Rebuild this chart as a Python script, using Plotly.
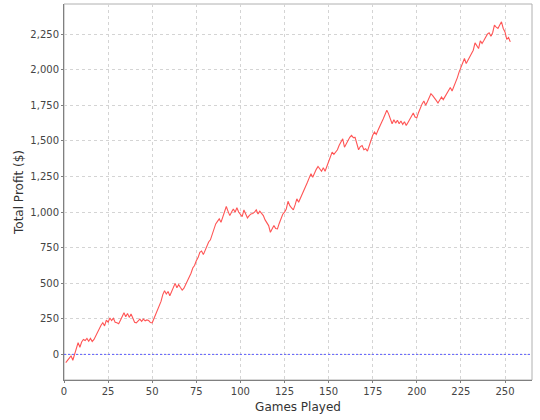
import plotly.graph_objects as go

# Cumulative profit after each game
profit = [
    -58, -40, -25, -10, -41, 5, 40, 83, 50, 87,
    105, 97, 112, 92, 112, 90, 105, 130, 160, 185,
    205, 222, 200, 240, 226, 256, 238, 254, 226, 222,
    215, 240, 262, 292, 265, 288, 260, 284, 255, 226,
    222, 236, 248, 232, 248, 236, 242, 238, 224, 222,
    250, 280, 305, 345, 372, 420, 447, 424, 442, 412,
    440, 470, 499, 468, 490, 470, 452, 465, 490, 515,
    541, 570, 607, 625, 658, 680, 717, 726, 701, 735,
    757, 790, 805, 846, 870, 917, 935, 952, 928, 965,
    992, 1039, 1005, 975, 1000, 1022, 999, 1030, 1000, 985,
    968, 1015, 990, 959, 975, 987, 990, 999, 1015, 987,
    1006, 990, 975, 945, 922, 905, 858, 880, 905, 885,
    882, 920, 952, 985, 1000, 1022, 1076, 1045, 1030, 1015,
    1050, 1093, 1069, 1095, 1125, 1151, 1180, 1210, 1240, 1269,
    1245, 1280, 1300, 1320, 1300, 1287, 1311, 1287, 1320, 1351,
    1385, 1421, 1405, 1420, 1438, 1470, 1495, 1515, 1456, 1480,
    1508, 1525, 1539, 1523, 1525, 1480, 1438, 1460, 1468, 1438,
    1445, 1428, 1470, 1515, 1540, 1562, 1546, 1575, 1609, 1630,
    1656, 1685, 1715, 1690, 1650, 1621, 1649, 1625, 1645, 1620,
    1640, 1616, 1635, 1609, 1630, 1656, 1675, 1696, 1668, 1663,
    1700, 1738, 1760, 1780, 1750, 1775, 1804, 1832, 1818, 1804,
    1785, 1766, 1790, 1808, 1790, 1810, 1832, 1855, 1875, 1851,
    1880, 1903, 1945, 1985, 2015, 2044, 2079, 2044, 2065, 2090,
    2115, 2137, 2189, 2170, 2149, 2203, 2185, 2205, 2232, 2250,
    2260, 2236, 2260, 2313, 2300, 2290, 2315, 2337, 2290, 2266,
    2213, 2227, 2196,
]
games = list(range(1, len(profit) + 1))

x_ticks = list(range(0, 251, 25))
y_ticks = list(range(0, 2251, 250))

FONT = "DejaVu Sans"
GRID = "#d4d4d4"

fig = go.Figure()

fig.add_trace(
    go.Scatter(
        x=games,
        y=profit,
        mode="lines",
        line=dict(color="#ff5555", width=1.1),
        showlegend=False,
    )
)

# plot outline, then the break-even marker
fig.add_shape(type="rect", xref="paper", yref="paper", x0=0, y0=0, x1=1, y1=1,
              line=dict(color="#b0b0b0", width=1), layer="below")
fig.add_hline(y=0, line_color="#5c5cff", line_width=1, line_dash="2px,2px")

fig.update_layout(
    width=540,
    height=420,
    paper_bgcolor="white",
    plot_bgcolor="white",
    margin=dict(l=64, r=8, t=4, b=40),
    font=dict(family=FONT, color="#444444", size=10),
    xaxis=dict(
        range=[0, 265.3],
        tickvals=x_ticks,
        ticks="outside",
        ticklen=2,
        tickcolor="#808080",
        showline=True,
        linecolor="#808080",
        showgrid=True,
        gridcolor=GRID,
        griddash="3px,3px",
        zeroline=False,
        automargin=False,
        title=dict(text="Games Played", font=dict(size=12, color="#333333"), standoff=6),
    ),
    yaxis=dict(
        range=[-180, 2462],
        tickvals=y_ticks,
        tickformat=",",
        ticks="outside",
        ticklen=2,
        tickcolor="#808080",
        showline=True,
        linecolor="#808080",
        showgrid=True,
        gridcolor=GRID,
        griddash="3px,3px",
        zeroline=False,
        automargin=False,
        title=dict(text="Total Profit ($)", font=dict(size=12, color="#333333"), standoff=4),
    ),
)

# the page body has a default 8px margin; drop it so the chart sits at 0,0
fig.write_html(
    "out.html",
    config={"displayModeBar": False},
    post_script="document.body.style.margin='0';",
)
